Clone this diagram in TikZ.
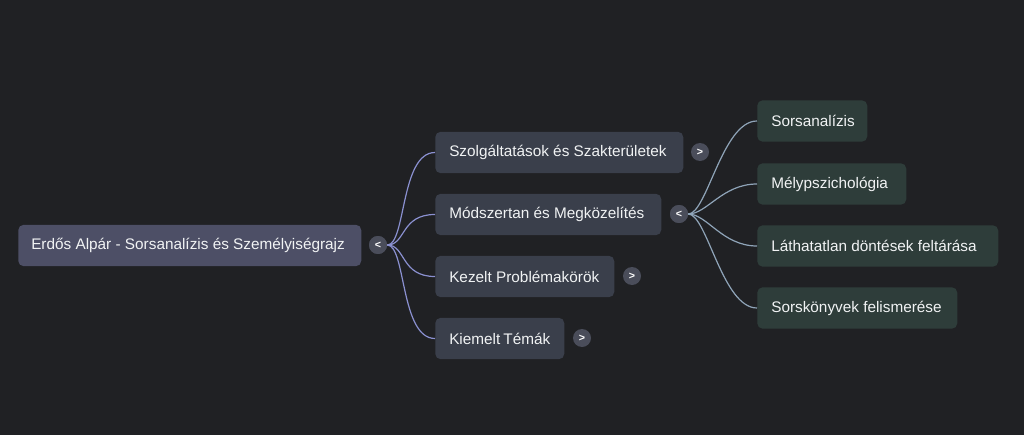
\documentclass[tikz,border=0pt]{standalone}
\usepackage{fontspec}
\setmainfont{Liberation Sans}
\usetikzlibrary{positioning}
\definecolor{canvas}{HTML}{202124}
\definecolor{rootfill}{HTML}{4D4F66}
\definecolor{topicfill}{HTML}{3A3F4B}
\definecolor{leaffill}{HTML}{2E3D3A}
\definecolor{togglefill}{HTML}{4A4D5A}
\definecolor{rootline}{HTML}{8A90D0}
\definecolor{leafline}{HTML}{8FA4B8}
\definecolor{labeltext}{HTML}{F1F3F4}

\begin{document}
\begin{tikzpicture}[
    x=0.75pt, y=-0.75pt,
    % Styles
    mapbox/.style={rounded corners=4pt, minimum height=31pt, inner xsep=10.5pt,
        anchor=west, text=labeltext, font=\fontsize{11.5}{13}\selectfont},
    boxw/.style={execute at begin node={\hbox to #1\bgroup}, execute at end node={\hfil\egroup}},
    rootbox/.style={mapbox, fill=rootfill, inner xsep=9.75pt},
    topicbox/.style={mapbox, fill=topicfill},
    leafbox/.style={mapbox, fill=leaffill},
    toggle/.style={circle, fill=togglefill, minimum size=13.5pt, inner sep=0pt,
        text=white, font=\fontsize{8}{8}\selectfont\bfseries},
    rootlink/.style={rootline, line width=0.9pt},
    leaflink/.style={leafline, line width=0.9pt},
]
    % Background and bounding box
    \fill[canvas] (0,0) rectangle (1024,435);
    \useasboundingbox (0,0) rectangle (1024,435);

    % Root node
    \node[rootbox, boxw=237.75pt] (root) at (18,245.5) {Erdős Alpár - Sorsanalízis és Személyiségrajz};
    \node[toggle] (rootT) at (378,245) {<};

    % First level topics
    \node[topicbox, boxw=165pt] (services) at (435,152.5) {Szolgáltatások és Szakterületek};
    \node[topicbox, boxw=148.5pt] (method) at (435,214.5) {Módszertan és Megközelítés};
    \node[topicbox, boxw=113.25pt] (problems) at (435,276.5) {Kezelt Problémakörök};
    \node[topicbox, boxw=75.75pt] (topics) at (435,338.5) {Kiemelt Témák};

    % Toggles of the topics
    \node[toggle] (servicesT) at (700,152) {>};
    \node[toggle] (methodT) at (679,214) {<};
    \node[toggle] (problemsT) at (632,276) {>};
    \node[toggle] (topicsT) at (582,338) {>};

    % Leaves of Módszertan
    \node[leafbox, boxw=61.5pt] (fate) at (757,121) {Sorsanalízis};
    \node[leafbox, boxw=90.75pt] (depth) at (757,184) {Mélypszichológia};
    \node[leafbox, boxw=159.75pt] (hidden) at (757,246) {Láthatatlan döntések feltárása};
    \node[leafbox, boxw=129pt] (scripts) at (757,308) {Sorskönyvek felismerése};

    % Links from the root
    \foreach \t in {services, method, problems, topics}
        \draw[rootlink] (rootT.east) .. controls +(14pt,0) and +(-26pt,0) .. (\t.west);

    % Links from Módszertan
    \foreach \t in {fate, depth, hidden, scripts}
        \draw[leaflink] (methodT.east) .. controls +(14pt,0) and +(-26pt,0) .. (\t.west);

    % Toggles drawn over the links
    \node[toggle] at (rootT) {<};
    \node[toggle] at (methodT) {<};

\end{tikzpicture}
\end{document}
